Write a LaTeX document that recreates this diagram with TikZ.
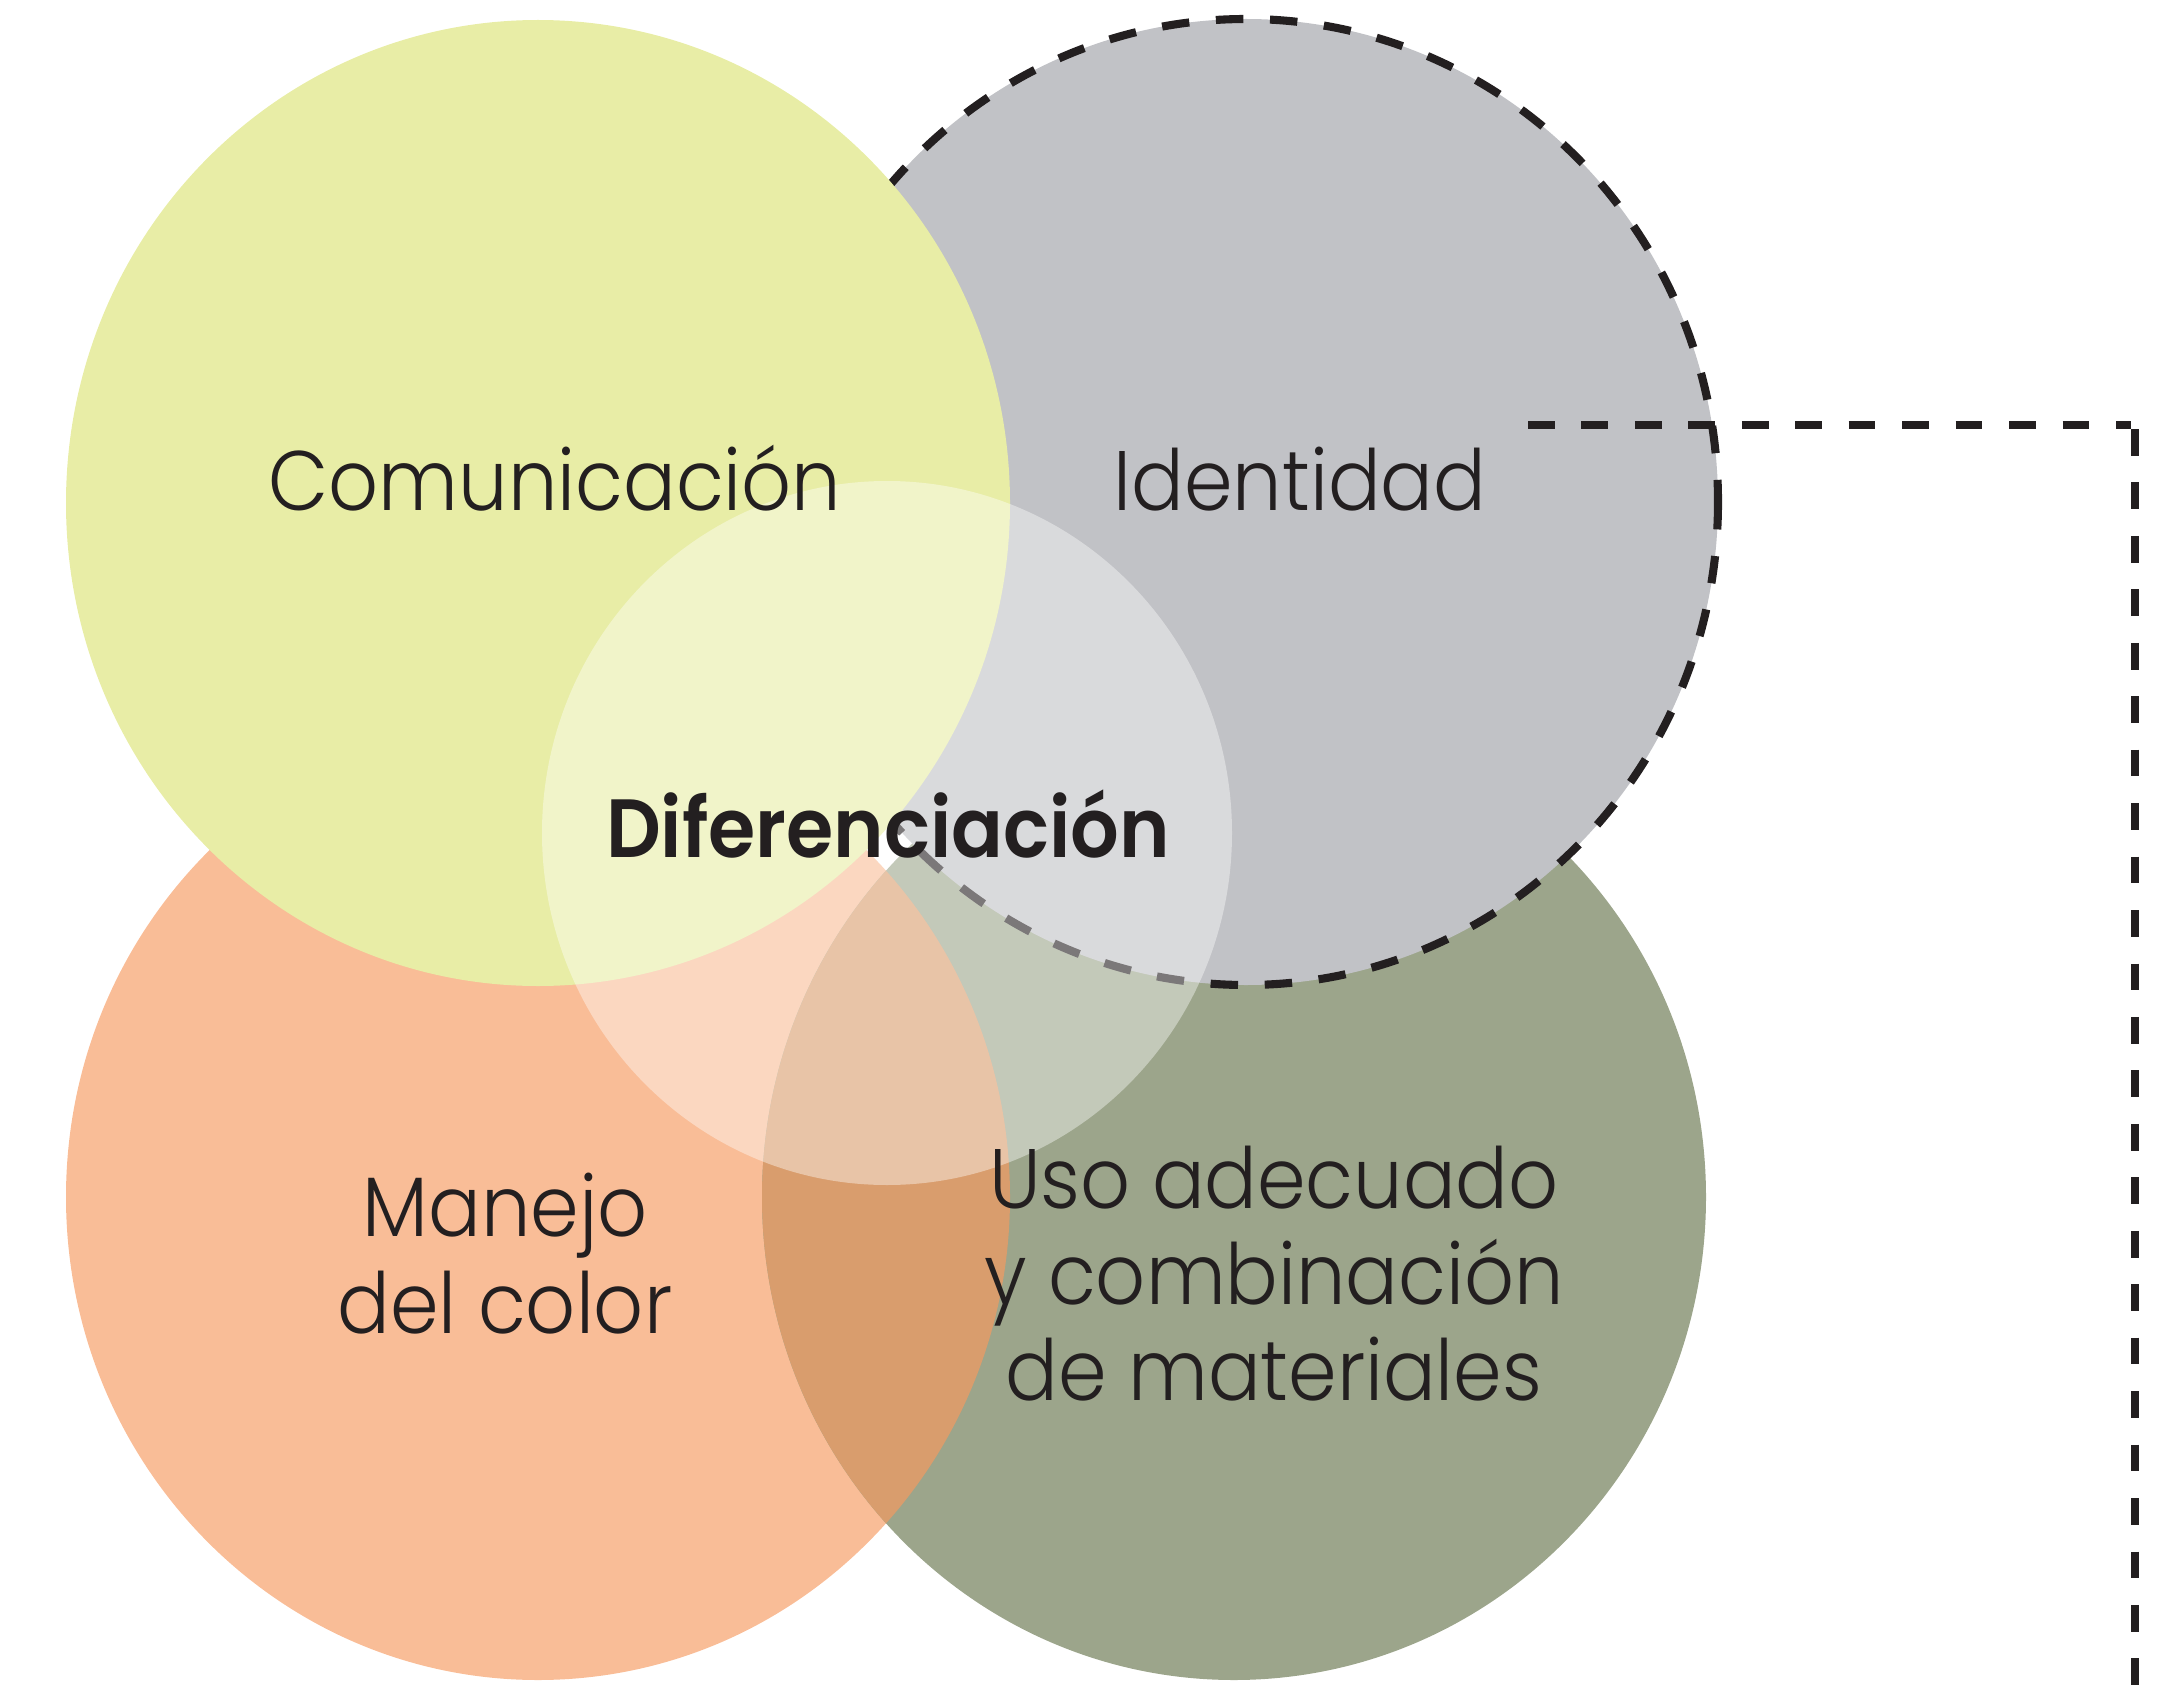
\documentclass[tikz,border=0pt]{standalone}
\usepackage{fontspec}
\setmainfont{Poppins}[UprightFont={* Light},BoldFont={* SemiBold},FakeStretch=0.925]
\definecolor{cgreen}{HTML}{E8EDA6}
\definecolor{cgrey}{HTML}{C1C2C6}
\definecolor{corange}{HTML}{F9BD97}
\definecolor{colive}{HTML}{9CA58B}
\definecolor{cbrown}{HTML}{D99D6D}
\definecolor{txt}{HTML}{231F20}
\begin{document}
\begin{tikzpicture}[x=0.01cm,y=-0.01cm,
  lbl/.style={anchor=base,inner sep=0pt,text=txt,font=\fontsize{24}{28}\selectfont},
  bold lbl/.style={anchor=base,inner sep=0pt,text=txt,font=\bfseries\fontsize{23.5}{28}\selectfont},
  big/.style={x radius=472,y radius=483},
  dashline/.style={draw=txt,line width=2.3pt,dash pattern=on 7.6pt off 7.6pt}]
\useasboundingbox (0,0) rectangle (2163,1685);
% circles
\fill[corange] (538,1197) ellipse[big];
\fill[colive] (1234,1197) ellipse[big];
\begin{scope}
  \clip (538,1197) ellipse[big];
  \fill[cbrown] (1234,1197) ellipse[big];
\end{scope}
\fill[cgrey] (1246,502) ellipse[big];
\draw[draw=txt,line width=2.3pt,dash pattern=on 7.8pt off 7.6pt] (1246,502) ellipse[big];
\fill[cgreen] (538,503) ellipse[big];
\fill[white,opacity=0.4] (887,833) ellipse[x radius=345,y radius=352];
% labels
\node[lbl] (com) at (555,510) {Comunicación};
\node[lbl] (ide) at (1300,510) {Identidad};
\node[bold lbl] (dif) at (888,857) {Diferenciación};
\node[lbl] (man1) at (505,1236) {Manejo};
\node[lbl] (man2) at (505,1333) {del color};
\node[lbl] (uso1) at (1274,1208) {Uso adecuado};
\node[lbl] (uso2) at (1274,1304) {y combinación};
\node[lbl] (uso3) at (1274,1400) {de materiales};
% connector
\coordinate (cs) at (1528,425);
\coordinate (ch) at (2131,425);
\coordinate (cv) at (2135,429);
\coordinate (ce) at (2135,1685);
\draw[dashline] (cs) -- (ch);
\draw[dashline] (cv) -- (ce);
\end{tikzpicture}
\end{document}
